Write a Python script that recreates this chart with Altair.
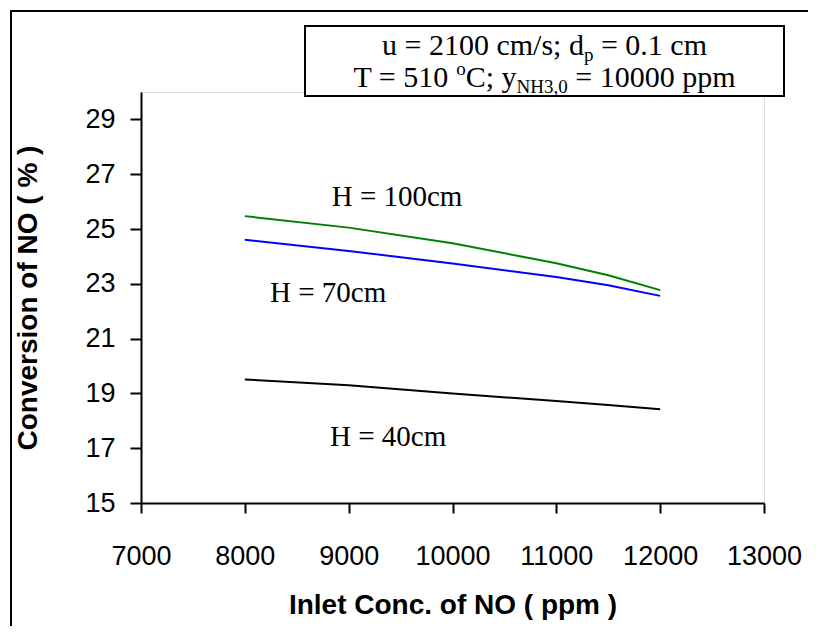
import altair as alt
import pandas as pd

# ---- data ----
inlet_no = [8000, 9000, 10000, 11000, 11500, 12000]
conv_h100 = [25.47, 25.05, 24.48, 23.75, 23.31, 22.77]
conv_h70 = [24.61, 24.20, 23.74, 23.25, 22.95, 22.56]
conv_h40 = [19.51, 19.30, 19.00, 18.72, 18.58, 18.42]
series_names = ["H = 100cm", "H = 70cm", "H = 40cm"]
series_colors = ["#008000", "#0000FF", "#000000"]
label_x = [9466, 8802, 9380]
label_y = [26.16, 22.66, 17.41]
x_ticks = [7000, 8000, 9000, 10000, 11000, 12000, 13000]
y_ticks = [15, 17, 19, 21, 23, 25, 27, 29]

W, H = 623, 411
OX, OY = 141, 92  # page position of plot origin

rows = []
for name, vals in zip(series_names, [conv_h100, conv_h70, conv_h40]):
    for xv, yv in zip(inlet_no, vals):
        rows.append({"x": xv, "y": yv, "series": name})
df = pd.DataFrame(rows)
lab_df = pd.DataFrame({"x": label_x, "y": label_y, "text": series_names})

xscale = alt.Scale(domain=[7000, 13000], nice=False, zero=False)
yscale = alt.Scale(domain=[15, 30], nice=False, zero=False)

SANS = "Liberation Sans"
SERIF = "Liberation Serif"

x_axis = alt.Axis(values=x_ticks, format="d", title="Inlet Conc. of NO ( ppm )",
                  tickSize=10, labelPadding=30, labelFontSize=27, labelFont=SANS,
                  labelColor="black", domainColor="black", tickColor="black",
                  domainWidth=2, tickWidth=2, grid=False, labelOverlap=False,
                  labelFlush=False,
                  titleFont=SANS, titleFontSize=28, titleFontWeight="bold",
                  titleColor="black", titleY=102, titleBaseline="middle")
y_axis = alt.Axis(values=y_ticks, title="Conversion of NO ( % )",
                  tickSize=11, labelPadding=15, labelFontSize=27, labelFont=SANS,
                  labelColor="black", domainColor="black", tickColor="black",
                  domainWidth=2, tickWidth=2, grid=False, labelOverlap=False,
                  labelFlush=False,
                  titleFont=SANS, titleFontSize=28, titleFontWeight="bold",
                  titleColor="black", titleX=-113, titleY=H / 2,
                  titleAngle=-90, titleBaseline="middle", titleAlign="center")

base_df = pd.DataFrame({"a": [0]})

# outer frame: only its left and top edges fall inside the picture
frame_top = alt.Chart(base_df).mark_rule(stroke="black", strokeWidth=2).encode(
    x=alt.value(10 - OX), x2=alt.value(816 - OX), y=alt.value(11 - OY))
frame_left = alt.Chart(base_df).mark_rule(stroke="black", strokeWidth=2).encode(
    x=alt.value(11 - OX), y=alt.value(10 - OY), y2=alt.value(634 - OY))

lines = alt.Chart(df).mark_line(strokeWidth=2).encode(
    x=alt.X("x:Q", scale=xscale, axis=x_axis),
    y=alt.Y("y:Q", scale=yscale, axis=y_axis),
    color=alt.Color("series:N", scale=alt.Scale(domain=series_names, range=series_colors), legend=None),
)

labels = alt.Chart(lab_df).mark_text(font=SERIF, fontSize=29, color="black").encode(
    x=alt.X("x:Q", scale=xscale), y=alt.Y("y:Q", scale=yscale), text="text:N")

# ---- parameter box ----
box_l, box_t, box_r, box_b = 305, 26, 784, 96
box = alt.Chart(base_df).mark_rect(fill="white", stroke="black", strokeWidth=2).encode(
    x=alt.value(box_l - OX), x2=alt.value(box_r - OX), y=alt.value(box_t - OY), y2=alt.value(box_b - OY))

TW = {"u": 500, " ": 250, "=": 564, "0": 500, "1": 500, "2": 500, "3": 500, "5": 500,
      "c": 444, "m": 778, "/": 278, "s": 389, ";": 278, "d": 500, "p": 500, ".": 250,
      "T": 611, "o": 500, "C": 667, "y": 500, "N": 722, "H": 722, ",": 250}


def tw(s, fs):
    return sum(TW.get(ch, 500) for ch in s) * fs / 1000.0


FS, FSS = 30, 19
cx = (box_l + box_r) / 2
line1 = [("u = 2100 cm/s; d", FS, 0), ("p", FSS, 6), (" ", FS, None), ("= 0.1 cm", FS, 0)]
line2 = [("T = 510", FS, 0), (" ", FS, None), ("o", FSS, -12), ("C; y", FS, 0),
         ("NH3,0", FSS, 6), (" ", FS, None), ("= 10000 ppm", FS, 0)]
pieces = []
for parts, base in [(line1, 55), (line2, 87)]:
    total = sum(tw(t, f) for t, f, _ in parts)
    xcur = cx - total / 2
    for t, f, off in parts:
        if off is not None:
            pieces.append({"t": t, "px": xcur - OX, "py": base + off - OY, "fs": f})
        xcur += tw(t, f)
pieces_df = pd.DataFrame(pieces)
box_text = alt.Chart(pieces_df).mark_text(font=SERIF, align="left", baseline="alphabetic",
                                          color="black").encode(
    x=alt.X("px:Q", scale=None), y=alt.Y("py:Q", scale=None),
    size=alt.Size("fs:Q", scale=None, legend=None), text="t:N")

chart = alt.layer(frame_top, frame_left, lines, labels, box, box_text).properties(
    width=W, height=H,
    autosize=alt.AutoSizeParams(type="none"),
    padding={"left": OX - 8, "top": OY - 8, "right": 816 - 16 - (OX - 8) - W,
             "bottom": 634 - 16 - (OY - 8) - H},
).configure_view(stroke=None).configure(background="white")

chart.save("out.html", embed_options={"renderer": "svg", "actions": False})
